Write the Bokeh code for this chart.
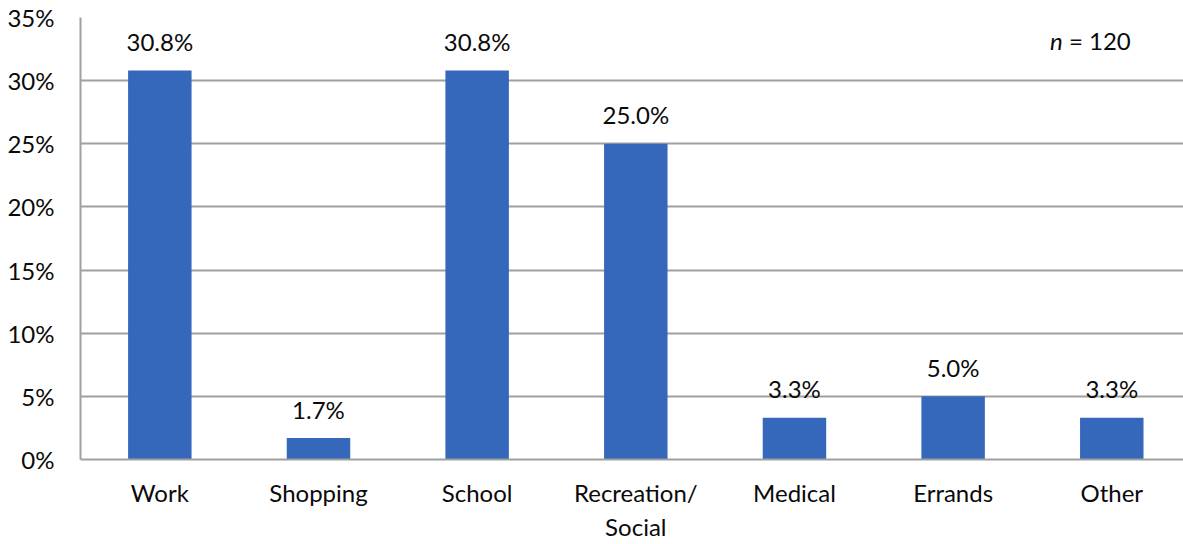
from bokeh.plotting import figure
from bokeh.models import ColumnDataSource, FixedTicker, NumeralTickFormatter, Range1d
from bokeh.core.properties import value
from bokeh.embed import file_html
from bokeh.resources import INLINE

categories = ["Work", "Shopping", "School", "Recreation/\nSocial", "Medical", "Errands", "Other"]
shares = [0.308, 0.017, 0.308, 0.250, 0.033, 0.050, 0.033]
share_labels = ["30.8%", "1.7%", "30.8%", "25.0%", "3.3%", "5.0%", "3.3%"]
y_ticks = [0, 0.05, 0.10, 0.15, 0.20, 0.25, 0.30, 0.35]

FONT = "Lato"
FS = "24px"
BAR = "#3567BA"
GRID = "#A0A0A0"
INK = "#0A0A0A"

xs = list(range(len(categories)))
src = ColumnDataSource(dict(x=xs, top=shares, label=share_labels))

p = figure(width=1183, height=544, output_backend="svg", toolbar_location=None,
           x_range=Range1d(-0.5, 6.452), y_range=Range1d(0, 0.35),
           min_border_left=80, min_border_top=17, min_border_bottom=81, min_border_right=0)
p.outline_line_color = None
p.background_fill_color = "white"
p.border_fill_color = "white"

p.vbar(x="x", top="top", width=0.4, bottom=0, source=src, fill_color=BAR, line_color=None)

p.text(x="x", y="top", text="label", source=src, text_align="center",
       text_baseline="alphabetic", y_offset=-29, text_font=value(FONT),
       text_font_size=FS, text_color=INK)

# n = 120 annotation
p.text(x=[5.69], y=[0.332], text=["n"], text_align="right", text_baseline="alphabetic",
       text_font=value(FONT), text_font_style="italic", text_font_size=FS, text_color=INK)
p.text(x=[5.73], y=[0.332], text=["= 120"], text_align="left", text_baseline="alphabetic",
       text_font=value(FONT), text_font_size=FS, text_color=INK)

# axes
p.xaxis.ticker = FixedTicker(ticks=xs)
p.xaxis.major_label_overrides = {i: c for i, c in enumerate(categories)}
p.yaxis.ticker = FixedTicker(ticks=y_ticks)
p.yaxis.formatter = NumeralTickFormatter(format="0%")

for ax in (p.xaxis, p.yaxis):
    ax.major_tick_line_color = None
    ax.minor_tick_line_color = None
    ax.major_tick_in = 0
    ax.major_tick_out = 0
    ax.axis_line_color = GRID
    ax.axis_line_width = 2
    ax.major_label_text_font = FONT
    ax.major_label_text_font_size = FS
    ax.major_label_text_color = INK

p.yaxis.major_label_standoff = 26
p.xaxis.major_label_standoff = 18

p.xgrid.grid_line_color = None
p.ygrid.grid_line_color = GRID
p.ygrid.grid_line_width = 2
p.ygrid.ticker = FixedTicker(ticks=y_ticks)

open("out.html", "w").write(file_html(p, INLINE))
